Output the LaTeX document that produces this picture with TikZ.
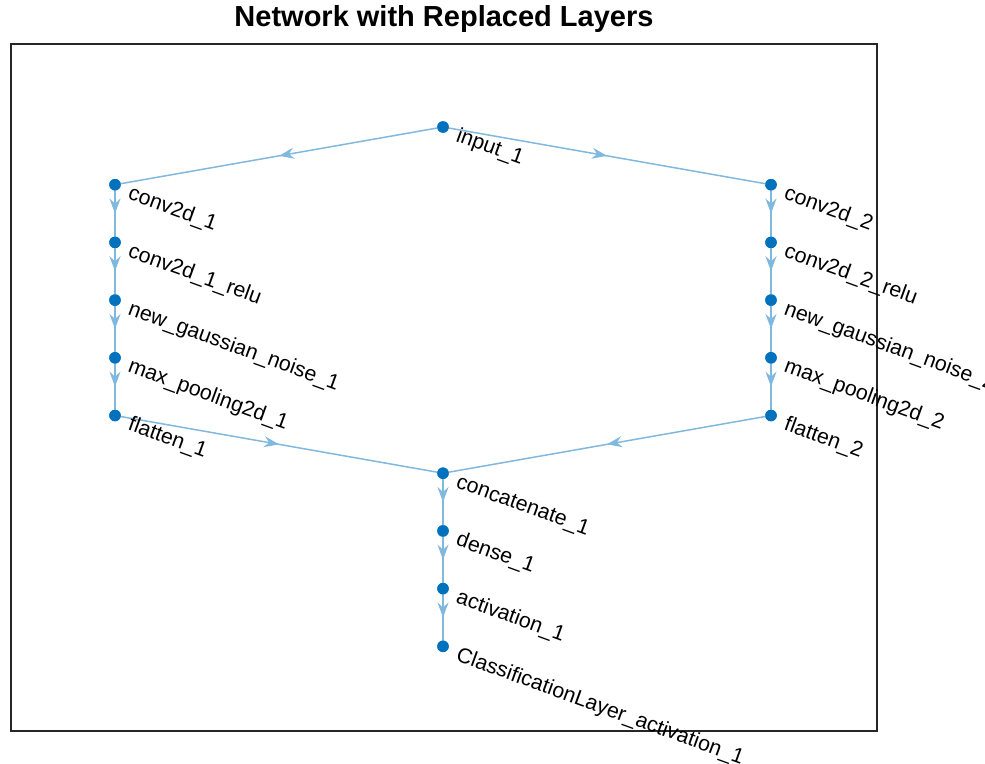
\documentclass[tikz,border=0pt]{standalone}
\usepackage{fontspec}
\setmainfont{Liberation Sans}
\usetikzlibrary{arrows.meta,decorations.markings}
\definecolor{nodeblue}{RGB}{0,114,189}
\definecolor{edgeblue}{RGB}{128,184,222}
\definecolor{axgray}{RGB}{38,38,38}
\tikzset{
  layer/.style={circle,fill=nodeblue,inner sep=0pt,minimum size=11.5pt},
  lbl/.style={anchor=base west,inner sep=0pt,rotate=-20,font=\fontsize{21.3}{21.3}\selectfont,text=black},
  edge/.style={draw=edgeblue,line width=1.5pt,
    postaction={decorate,decoration={markings,
      mark=at position 0.5 with {\arrow{Stealth[length=15pt,width=11pt,inset=5pt,fill=edgeblue]}}}}}
}
\begin{document}
\begin{tikzpicture}[x=1pt,y=-1pt]
\useasboundingbox (0,0) rectangle (985,763);
\node[font=\fontsize{29}{29}\selectfont\bfseries] (title) at (444,19) {Network with Replaced Layers};
\draw[axgray,line width=1.3pt] (11,44) rectangle (877,731);
% nodes
\node[layer] (in) at (443,127) {};
\node[layer] (c1) at (115,184.7) {};
\node[layer] (r1) at (115,242.4) {};
\node[layer] (g1) at (115,300.1) {};
\node[layer] (m1) at (115,357.8) {};
\node[layer] (f1) at (115,415.5) {};
\node[layer] (c2) at (771,184.7) {};
\node[layer] (r2) at (771,242.4) {};
\node[layer] (g2) at (771,300.1) {};
\node[layer] (m2) at (771,357.8) {};
\node[layer] (f2) at (771,415.5) {};
\node[layer] (cat) at (443,473.2) {};
\node[layer] (d1) at (443,530.9) {};
\node[layer] (a1) at (443,588.6) {};
\node[layer] (cl) at (443,646.3) {};
% edges
\path[edge] (in.center) -- (c1.center);
\path[edge] (in.center) -- (c2.center);
\path[edge] (c1.center) -- (r1.center);
\path[edge] (r1.center) -- (g1.center);
\path[edge] (g1.center) -- (m1.center);
\path[edge] (m1.center) -- (f1.center);
\path[edge] (c2.center) -- (r2.center);
\path[edge] (r2.center) -- (g2.center);
\path[edge] (g2.center) -- (m2.center);
\path[edge] (m2.center) -- (f2.center);
\path[edge] (f1.center) -- (cat.center);
\path[edge] (f2.center) -- (cat.center);
\path[edge] (cat.center) -- (d1.center);
\path[edge] (d1.center) -- (a1.center);
\path[edge] (a1.center) -- (cl.center);
% redraw dots on top
\foreach \n in {in,c1,r1,g1,m1,f1,c2,r2,g2,m2,f2,cat,d1,a1,cl}
  \fill[nodeblue] (\n.center) circle (5.75pt);
% labels
\node[lbl] (lin) at ([shift={(12,14)}]in.center) {input\_1};
\node[lbl] (lc1) at ([shift={(12,14)}]c1.center) {conv2d\_1};
\node[lbl] (lr1) at ([shift={(12,14)}]r1.center) {conv2d\_1\_relu};
\node[lbl] (lg1) at ([shift={(12,14)}]g1.center) {new\_gaussian\_noise\_1};
\node[lbl] (lm1) at ([shift={(12,14)}]m1.center) {max\_pooling2d\_1};
\node[lbl] (lf1) at ([shift={(12,14)}]f1.center) {flatten\_1};
\node[lbl] (lc2) at ([shift={(12,14)}]c2.center) {conv2d\_2};
\node[lbl] (lr2) at ([shift={(12,14)}]r2.center) {conv2d\_2\_relu};
\node[lbl] (lg2) at ([shift={(12,14)}]g2.center) {new\_gaussian\_noise\_2};
\node[lbl] (lm2) at ([shift={(12,14)}]m2.center) {max\_pooling2d\_2};
\node[lbl] (lf2) at ([shift={(12,14)}]f2.center) {flatten\_2};
\node[lbl] (lcat) at ([shift={(12,14)}]cat.center) {concatenate\_1};
\node[lbl] (ld1) at ([shift={(12,14)}]d1.center) {dense\_1};
\node[lbl] (la1) at ([shift={(12,14)}]a1.center) {activation\_1};
\node[lbl] (lcl) at ([shift={(12,14)}]cl.center) {ClassificationLayer\_activation\_1};
\end{tikzpicture}
\end{document}
